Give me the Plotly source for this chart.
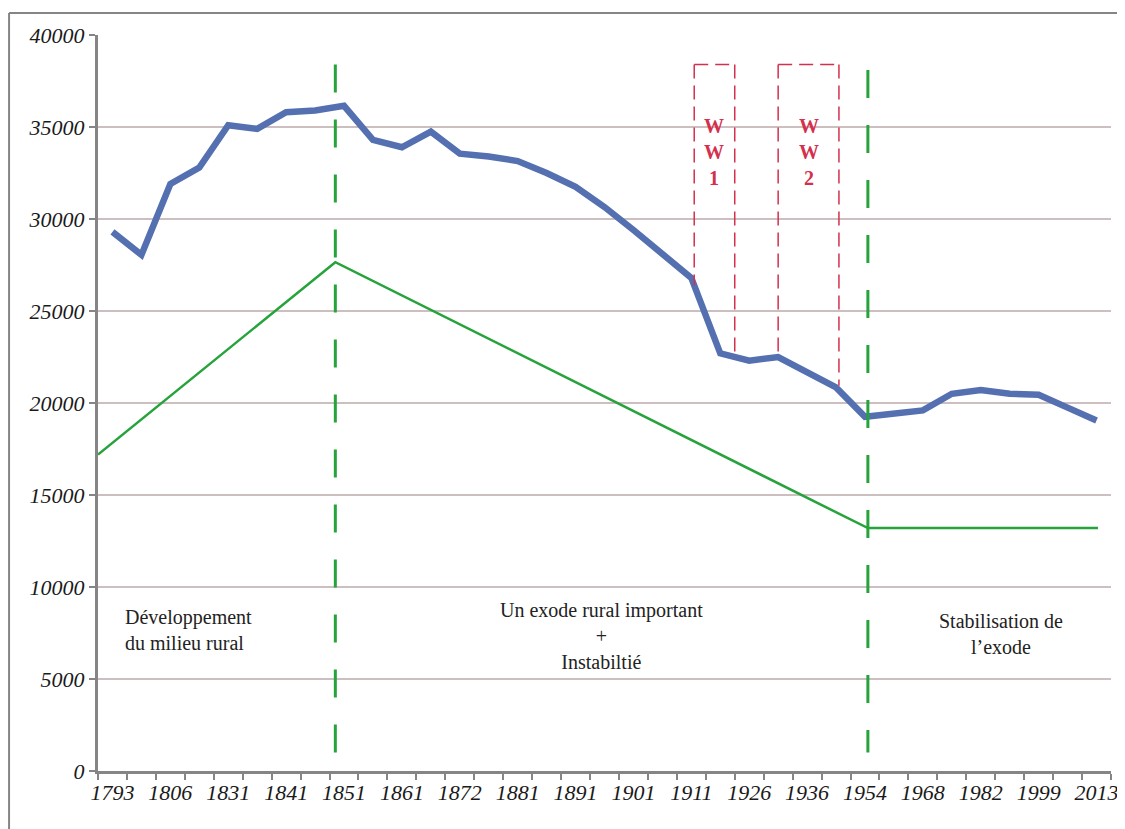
import numpy as np
import plotly.graph_objects as go

# ---- data ----
tick_labels = ["1793", "1806", "1831", "1841", "1851", "1861", "1872", "1881", "1891",
               "1901", "1911", "1926", "1936", "1954", "1968", "1982", "1999", "2013"]
population = [29300, 28050, 31900, 32800, 35100, 34900, 35800, 35900, 36150,
              34300, 33900, 34750, 33550, 33400, 33150, 32500, 31750, 30650,
              29400, 28150, 26800, 22700, 22300, 22500, 21700, 20850, 19250,
              19400, 19600, 20500, 20700, 20500, 20450, 19750, 19050]
trend_x = [-0.5, 7.7, 26.1, 34.05]
trend_y = [17200, 27650, 13200, 13200]
phase_x = [7.7, 26.1]
phase_top = [38400, 38100]
war_boxes = [("W<br>W<br>1", 20.1, 21.5), ("W<br>W<br>2", 23.0, 25.1)]
phase_texts = [
    ("Développement<br>du milieu rural", 0.35, 7650, "left"),
    ("Un exode rural important<br>+<br>Instabiltié", 16.9, 7350, "center"),
    ("Stabilisation de<br>l\u2019exode", 30.7, 7450, "center"),
]

n = len(population)
cat_idx = np.arange(n)

BLUE = "#5470b0"
GREEN = "#27a33c"
RED = "#d4304d"
AXIS = "#858585"
GRID = "#cdbfc0"
SERIF = "Liberation Serif"

fig = go.Figure()

fig.add_trace(go.Scatter(x=trend_x, y=trend_y, mode="lines",
                         line=dict(color=GREEN, width=2.5), hoverinfo="skip"))
fig.add_trace(go.Scatter(x=cat_idx, y=population, mode="lines",
                         line=dict(color=BLUE, width=6.5), hoverinfo="skip"))

shapes = []
# vertical phase separators (drawn top-down so the dash pattern starts at the top)
for px, pt in zip(phase_x, phase_top):
    shapes.append(dict(type="line", xref="x", yref="y", x0=px, x1=px, y0=pt, y1=1000,
                       line=dict(color=GREEN, width=3, dash="28px,27px")))

# war boxes (three-sided, sides end at the population line)
top = 38400
for label, xa, xb in war_boxes:
    ya = float(np.interp(xa, cat_idx, population))
    yb = float(np.interp(xb, cat_idx, population))
    shapes.append(dict(type="line", xref="x", yref="y", x0=xa, x1=xa, y0=top, y1=ya,
                       line=dict(color=RED, width=1.5, dash="14px,7px")))
    shapes.append(dict(type="line", xref="x", yref="y", x0=xb, x1=xb, y0=top, y1=yb + 250,
                       line=dict(color=RED, width=1.5, dash="14px,7px")))
    shapes.append(dict(type="line", xref="x", yref="y", x0=xa, x1=xb, y0=top, y1=top,
                       line=dict(color=RED, width=1.5, dash="14px,7px")))

# outer frame (left and top)
shapes.append(dict(type="line", xref="paper", yref="paper", x0=-0.0878, x1=-0.0878,
                   y0=-0.1, y1=1.0299, line=dict(color=AXIS, width=2)))
shapes.append(dict(type="line", xref="paper", yref="paper", x0=-0.0878, x1=1.02,
                   y0=1.0299, y1=1.0299, line=dict(color=AXIS, width=2)))

annotations = []
for label, xa, xb in war_boxes:
    annotations.append(dict(x=(xa + xb) / 2, y=33650, xref="x", yref="y", text="<b>" + label + "</b>",
                            showarrow=False, align="center",
                            font=dict(family=SERIF, size=20, color=RED)))
for txt, x, y, al in phase_texts:
    annotations.append(dict(x=x, y=y, xref="x", yref="y", text=txt, showarrow=False,
                            xanchor="left" if al == "left" else "center", align=al,
                            font=dict(family=SERIF, size=20, color="#222222")))

# page body has an 8px margin, so the figure is sized/margined to compensate
fig.update_layout(
    width=1117, height=821,
    margin=dict(l=90, r=14, t=27, b=58),
    paper_bgcolor="white", plot_bgcolor="white",
    showlegend=False,
    shapes=shapes, annotations=annotations,
    xaxis=dict(range=[-0.5, n - 0.5], tickmode="array", automargin=False,
               tickvals=list(cat_idx[::2]), ticktext=tick_labels,
               ticks="", showgrid=False, zeroline=False,
               showline=True, linecolor=AXIS, linewidth=3,
               tickfont=dict(family=SERIF, size=22, color="#1a1a1a", style="italic"),
               minor=dict(ticks="outside", ticklen=6, tickwidth=2, tickcolor=AXIS,
                          tickmode="linear", tick0=-0.5, dtick=1, showgrid=False)),
    yaxis=dict(range=[0, 40000], tickmode="linear", tick0=0, dtick=5000,
               tickformat="d", automargin=False,
               ticks="outside", ticklen=6, tickwidth=1.5, tickcolor=AXIS,
               showgrid=True, gridcolor=GRID, gridwidth=1.5, zeroline=False,
               showline=True, linecolor=AXIS, linewidth=3,
               tickfont=dict(family=SERIF, size=22, color="#1a1a1a", style="italic")),
)

fig.write_html("out.html")
